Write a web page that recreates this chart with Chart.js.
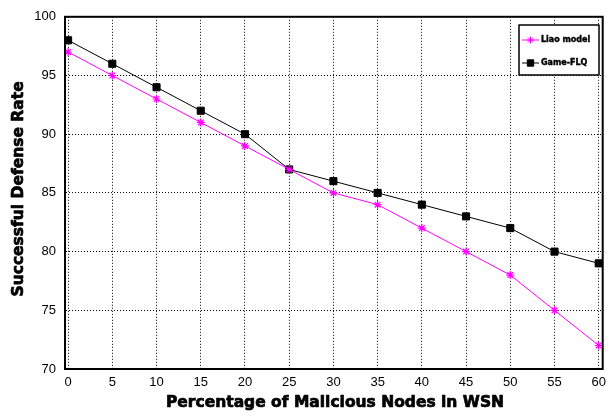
<!DOCTYPE html>
<html>
<head>
<meta charset="utf-8">
<script src="https://cdn.jsdelivr.net/npm/chart.js@4.4.1/dist/chart.umd.min.js"></script>
<style>
    html, body { margin: 0; padding: 0; background: #fff; }
    #wrap { width: 612px; height: 420px; position: relative; }
</style>
</head>
<body>
<div id="wrap"><canvas id="chart"></canvas></div>
<script>
// ---- datos ----
const xValues = [0, 5, 10, 15, 20, 25, 30, 35, 40, 45, 50, 55, 60];
const liaoModel = [97, 95, 93, 91, 89, 87, 85, 84, 82, 80, 78, 75, 72];
const gameFLQ = [98, 96, 94, 92, 90, 87, 86, 85, 84, 83, 82, 80, 79];
const xTicks = [0, 5, 10, 15, 20, 25, 30, 35, 40, 45, 50, 55, 60];
const yTicks = [70, 75, 80, 85, 90, 95, 100];

const seriesLabels = ['Liao model', 'Game-FLQ'];
const xTitle = 'Percentage of Malicious Nodes in WSN';
const yTitle = 'Successful Defense Rate';

const toPoints = (ys) => ys.map((y, i) => ({ x: xValues[i], y }));

// texto "negrita pesada" (imita Arial Black)
function heavyText(ctx, text, x, y, w) {
    ctx.lineWidth = w;
    ctx.lineJoin = 'round';
    ctx.strokeStyle = '#000';
    ctx.strokeText(text, x, y);
    ctx.fillText(text, x, y);
}

// marco superior/derecho + titulos + leyenda
const framePlugin = {
    id: 'frame',
    afterDraw(chart) {
        const { ctx, chartArea: a } = chart;
        ctx.save();
        ctx.strokeStyle = '#000';
        ctx.lineWidth = 2;
        ctx.strokeRect(a.left, a.top, a.right - a.left, a.bottom - a.top);

        // titulo eje x
        ctx.fillStyle = '#000';
        ctx.font = 'bold 15.5px "DejaVu Sans"';
        ctx.textAlign = 'center';
        ctx.textBaseline = 'middle';
        heavyText(ctx, xTitle, 335, 403, 0.7);

        // titulo eje y (recortado por la izquierda como en la figura)
        ctx.save();
        ctx.beginPath();
        ctx.rect(10, 0, 60, 420);
        ctx.clip();
        ctx.translate(23, (a.top + a.bottom) / 2 - 4);
        ctx.rotate(-Math.PI / 2);
        ctx.textBaseline = 'alphabetic';
        ctx.font = 'bold 15.5px "DejaVu Sans"';
        heavyText(ctx, yTitle, 0, 0, 0.7);
        ctx.restore();

        // leyenda
        const bx = 519, by = 25, bw = 80, bh = 50;
        ctx.fillStyle = '#fff';
        ctx.fillRect(bx, by, bw, bh);
        ctx.strokeStyle = '#000';
        ctx.lineWidth = 1.5;
        ctx.strokeRect(bx, by, bw, bh);
        const rows = [40, 63];
        chart.data.datasets.forEach((ds, i) => {
            const y = rows[i];
            ctx.strokeStyle = ds.borderColor;
            ctx.fillStyle = ds.pointBackgroundColor;
            ctx.lineWidth = 1;
            ctx.beginPath();
            ctx.moveTo(522, y);
            ctx.lineTo(539, y);
            ctx.stroke();
            Chart.helpers.drawPoint(ctx, {
                pointStyle: ds.pointStyle,
                radius: ds.pointRadius - 0.5,
                borderWidth: 1
            }, 530.5, y);
            ctx.fillStyle = '#000';
            ctx.font = 'bold 8px "DejaVu Sans"';
            ctx.textAlign = 'left';
            ctx.textBaseline = 'middle';
            heavyText(ctx, ds.label, 541, y, 0.4);
        });
        ctx.restore();
    }
};

new Chart(document.getElementById('chart'), {
    type: 'line',
    data: {
        datasets: [
            {
                label: seriesLabels[0],
                data: toPoints(liaoModel),
                borderColor: '#ff00ff',
                backgroundColor: '#ff00ff',
                pointBackgroundColor: '#ff00ff',
                pointBorderColor: '#ff00ff',
                pointStyle: 'star',
                pointRadius: 4,
                pointBorderWidth: 1.2,
                borderWidth: 1,
                tension: 0
            },
            {
                label: seriesLabels[1],
                data: toPoints(gameFLQ),
                borderColor: '#000',
                backgroundColor: '#000',
                pointBackgroundColor: '#000',
                pointBorderColor: '#000',
                pointStyle: 'rect',
                pointRadius: 5,
                pointBorderWidth: 1,
                borderWidth: 1,
                tension: 0
            }
        ]
    },
    options: {
        responsive: true,
        maintainAspectRatio: false,
        animation: false,
        layout: { padding: { top: 15, right: 7, left: 0, bottom: 0 } },
        plugins: {
            legend: { display: false },
            tooltip: { enabled: false }
        },
        scales: {
            x: {
                type: 'linear',
                min: -0.35,
                max: 60.45,
                afterBuildTicks: (s) => { s.ticks = xTicks.map(v => ({ value: v })); },
                afterFit: (s) => { s.height = 51; },
                ticks: {
                    color: '#000',
                    padding: 6,
                    maxRotation: 0,
                    font: { family: '"Liberation Sans", Arial', size: 13 }
                },
                grid: {
                    color: '#000',
                    lineWidth: 1,
                    drawTicks: false
                },
                border: { display: true, color: '#000', width: 2, dash: [1, 2] }
            },
            y: {
                min: 70,
                max: 100,
                afterBuildTicks: (s) => { s.ticks = yTicks.map(v => ({ value: v })); },
                afterFit: (s) => { s.width = 65; },
                ticks: {
                    color: '#000',
                    padding: 9,
                    font: { family: '"Liberation Sans", Arial', size: 13 }
                },
                grid: {
                    color: '#000',
                    lineWidth: 1,
                    drawTicks: false
                },
                border: { display: true, color: '#000', width: 2, dash: [1, 2] }
            }
        }
    },
    plugins: [framePlugin]
});
</script>
</body>
</html>
